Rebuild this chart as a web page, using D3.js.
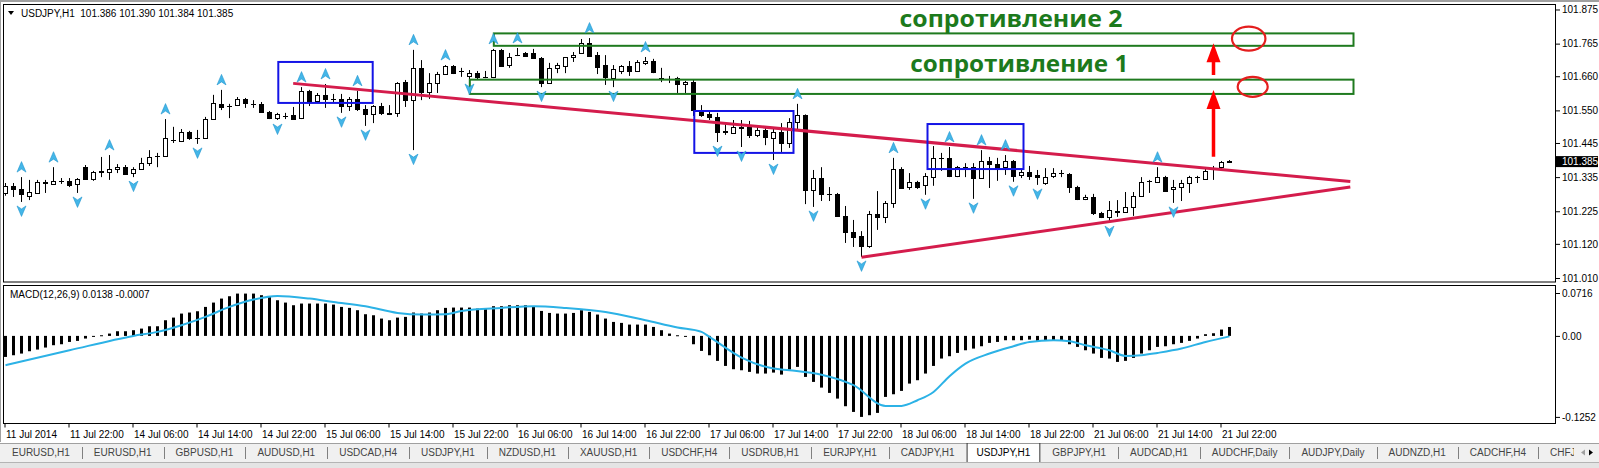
<!DOCTYPE html>
<html>
<head>
<meta charset="utf-8">
<script src="https://cdn.jsdelivr.net/npm/d3@7"></script>
<style>
  body { margin: 0; background: #fff; }
  svg { display: block; font-family: "Liberation Sans", Arial, sans-serif; }
</style>
</head>
<body>
<svg id="chart" width="1599" height="468"></svg>
<script>
// USDJPY H1 candles, [open, high, low, close], one per hour from 11 Jul 14:00
var candles = [
  [101.284,101.316,101.275,101.307],[101.307,101.316,101.271,101.297],[101.297,101.335,101.255,101.281],
  [101.275,101.326,101.261,101.288],[101.284,101.326,101.281,101.320],[101.318,101.326,101.284,101.316],
  [101.313,101.367,101.310,101.323],[101.322,101.332,101.313,101.323],[101.323,101.332,101.303,101.310],
  [101.313,101.332,101.284,101.329],[101.367,101.374,101.326,101.329],[101.329,101.355,101.323,101.352],
  [101.355,101.400,101.335,101.352],[101.352,101.406,101.326,101.361],[101.361,101.377,101.348,101.367],
  [101.367,101.374,101.342,101.345],[101.348,101.367,101.335,101.361],[101.361,101.397,101.358,101.380],
  [101.380,101.422,101.371,101.400],[101.402,101.413,101.367,101.403],[101.403,101.522,101.400,101.461],
  [101.456,101.497,101.445,101.455],[101.451,101.490,101.448,101.481],[101.481,101.484,101.455,101.461],
  [101.462,101.487,101.442,101.461],[101.461,101.529,101.458,101.522],[101.522,101.600,101.519,101.574],
  [101.571,101.616,101.551,101.561],[101.564,101.571,101.525,101.565],[101.567,101.593,101.564,101.587],
  [101.587,101.590,101.558,101.574],[101.572,101.583,101.558,101.571],[101.571,101.577,101.542,101.545],
  [101.545,101.548,101.522,101.525],[101.525,101.542,101.519,101.538],[101.533,101.542,101.522,101.532],
  [101.535,101.561,101.520,101.522],[101.525,101.625,101.522,101.613],[101.613,101.616,101.564,101.577],
  [101.580,101.606,101.577,101.600],[101.600,101.635,101.558,101.587],[101.588,101.603,101.577,101.587],
  [101.587,101.603,101.542,101.564],[101.564,101.593,101.548,101.587],[101.587,101.613,101.548,101.554],
  [101.554,101.567,101.500,101.538],[101.538,101.567,101.509,101.564],[101.564,101.574,101.535,101.542],
  [101.540,101.567,101.535,101.538],[101.542,101.641,101.529,101.638],[101.641,101.648,101.561,101.583],
  [101.583,101.745,101.422,101.687],[101.687,101.712,101.583,101.609],[101.609,101.670,101.587,101.638],
  [101.638,101.674,101.606,101.667],[101.667,101.696,101.664,101.693],[101.693,101.696,101.667,101.670],
  [101.678,101.687,101.658,101.677],[101.661,101.680,101.648,101.670],[101.670,101.677,101.648,101.658],
  [101.659,101.677,101.654,101.658],[101.658,101.748,101.654,101.745],[101.745,101.748,101.690,101.693],
  [101.696,101.735,101.687,101.722],[101.727,101.751,101.725,101.728],[101.735,101.738,101.722,101.725],
  [101.735,101.748,101.716,101.719],[101.719,101.722,101.625,101.638],[101.638,101.703,101.635,101.687],
  [101.687,101.703,101.670,101.696],[101.693,101.722,101.670,101.722],[101.722,101.738,101.706,101.728],
  [101.735,101.780,101.732,101.767],[101.767,101.783,101.722,101.725],[101.728,101.738,101.667,101.690],
  [101.696,101.728,101.632,101.658],[101.654,101.696,101.625,101.683],[101.677,101.696,101.667,101.693],
  [101.693,101.709,101.661,101.677],[101.677,101.712,101.674,101.706],[101.703,101.722,101.696,101.709],
  [101.709,101.716,101.670,101.674],[101.655,101.687,101.641,101.654],[101.652,101.661,101.638,101.651],
  [101.654,101.658,101.606,101.635],[101.635,101.645,101.606,101.641],[101.641,101.648,101.532,101.551],
  [101.545,101.567,101.529,101.535],[101.538,101.545,101.519,101.529],[101.529,101.542,101.448,101.481],
  [101.482,101.509,101.471,101.481],[101.477,101.519,101.474,101.497],[101.497,101.519,101.432,101.493],
  [101.497,101.516,101.461,101.471],[101.471,101.497,101.464,101.487],[101.487,101.497,101.438,101.464],
  [101.461,101.493,101.390,101.481],[101.481,101.509,101.416,101.445],[101.445,101.525,101.429,101.513],
  [101.513,101.571,101.487,101.535],[101.535,101.537,101.248,101.294],[101.294,101.358,101.239,101.332],
  [101.332,101.367,101.258,101.281],[101.282,101.303,101.258,101.281],[101.281,101.284,101.207,101.210],
  [101.210,101.242,101.123,101.158],[101.158,101.197,101.110,101.142],[101.145,101.161,101.078,101.113],
  [101.113,101.226,101.107,101.216],[101.216,101.290,101.165,101.207],[101.207,101.258,101.187,101.252],
  [101.252,101.397,101.236,101.361],[101.361,101.367,101.297,101.300],[101.303,101.348,101.294,101.320],
  [101.320,101.323,101.297,101.303],[101.310,101.348,101.278,101.339],[101.335,101.435,101.307,101.397],
  [101.396,101.413,101.355,101.397],[101.397,101.432,101.335,101.339],[101.339,101.371,101.335,101.367],
  [101.368,101.380,101.335,101.367],[101.367,101.380,101.265,101.332],[101.332,101.422,101.329,101.387],
  [101.387,101.400,101.300,101.377],[101.377,101.397,101.323,101.364],[101.367,101.406,101.342,101.387],
  [101.387,101.390,101.320,101.339],[101.342,101.361,101.332,101.352],[101.352,101.371,101.326,101.339],
  [101.342,101.358,101.310,101.335],[101.316,101.364,101.310,101.335],[101.339,101.364,101.332,101.348],
  [101.349,101.358,101.335,101.348],[101.345,101.348,101.284,101.303],[101.303,101.307,101.261,101.265],
  [101.265,101.278,101.261,101.271],[101.271,101.281,101.213,101.220],[101.220,101.223,101.203,101.207],
  [101.207,101.258,101.190,101.229],[101.226,101.261,101.207,101.223],[101.223,101.287,101.220,101.239],
  [101.239,101.287,101.210,101.274],[101.274,101.335,101.271,101.320],[101.323,101.326,101.284,101.322],
  [101.320,101.367,101.318,101.335],[101.335,101.339,101.287,101.290],[101.297,101.326,101.252,101.303],
  [101.303,101.326,101.258,101.316],[101.316,101.339,101.284,101.335],[101.336,101.339,101.316,101.335],
  [101.329,101.367,101.326,101.355],[101.364,101.371,101.326,101.365],[101.367,101.387,101.361,101.384],
  [101.386,101.390,101.384,101.385]
];

// MACD(12,26,9) main values, one per candle
var macdMain = [
  -0.0325,-0.0299,-0.0273,-0.0237,-0.0211,-0.0180,-0.0144,-0.0129,-0.0093,-0.0077,
  -0.0041,-0.0015,0.0010,0.0036,0.0072,0.0072,0.0088,0.0113,0.0149,0.0149,
  0.0242,0.0283,0.0345,0.0361,0.0381,0.0448,0.0515,0.0577,0.0613,0.0654,
  0.0654,0.0654,0.0629,0.0603,0.0551,0.0515,0.0474,0.0500,0.0500,0.0500,
  0.0500,0.0484,0.0448,0.0433,0.0397,0.0335,0.0319,0.0268,0.0242,0.0283,
  0.0294,0.0361,0.0345,0.0361,0.0397,0.0433,0.0438,0.0438,0.0438,0.0422,
  0.0422,0.0459,0.0459,0.0474,0.0474,0.0474,0.0448,0.0386,0.0355,0.0345,
  0.0345,0.0355,0.0397,0.0371,0.0330,0.0268,0.0216,0.0201,0.0175,0.0175,
  0.0175,0.0139,0.0088,0.0036,0.0010,-0.0015,-0.0129,-0.0232,-0.0299,-0.0386,
  -0.0464,-0.0515,-0.0531,-0.0556,-0.0582,-0.0582,-0.0567,-0.0598,-0.0520,-0.0479,
  -0.0634,-0.0711,-0.0799,-0.0881,-0.0969,-0.1087,-0.1175,-0.1252,-0.1226,-0.1190,
  -0.0943,-0.0902,-0.0850,-0.0737,-0.0685,-0.0582,-0.0464,-0.0350,-0.0314,-0.0263,
  -0.0222,-0.0196,-0.0160,-0.0108,-0.0093,-0.0067,-0.0067,-0.0067,-0.0057,-0.0077,
  -0.0077,-0.0067,-0.0077,-0.0129,-0.0170,-0.0222,-0.0273,-0.0340,-0.0350,-0.0402,
  -0.0386,-0.0340,-0.0273,-0.0222,-0.0170,-0.0160,-0.0129,-0.0108,-0.0077,-0.0041,
  0.0026,0.0041,0.0098,0.0138
];

// signal line, read at [bar index, value]
var macdSignal = [
  [0,-0.0453],[8,-0.0222],[16,0.0000],[19,0.0062],[22,0.0165],[25,0.0294],[28,0.0448],
  [31,0.0562],[34,0.0618],[38,0.0577],[41,0.0525],[45,0.0459],[49,0.0355],[52,0.0330],
  [55,0.0335],[57,0.0386],[62,0.0433],[66,0.0459],[70,0.0433],[75,0.0371],[80,0.0242],
  [84,0.0129],[87,0.0062],[88,-0.0015],[92,-0.0335],[96,-0.0505],[98,-0.0531],[102,-0.0600],
  [106,-0.0762],[110,-0.1082],[112,-0.1082],[114,-0.0994],[116,-0.0866],[118,-0.0623],
  [120,-0.0428],[123,-0.0273],[126,-0.0160],[128,-0.0093],[131,-0.0067],[133,-0.0082],
  [135,-0.0144],[138,-0.0222],[140,-0.0309],[142,-0.0299],[144,-0.0263],[147,-0.0196],
  [150,-0.0093],[153,-0.0007]
];

var fractalUp = [2,6,13,20,27,37,40,44,51,55,61,64,73,80,99,111,118,122,125,144];
var fractalDown = [2,9,16,24,34,42,45,51,58,67,76,89,92,96,101,107,115,121,126,129,138,146];

var priceTicks = [101.875,101.765,101.660,101.550,101.445,101.335,101.225,101.120,101.010];
var macdTicks = [0.0716, 0, -0.1252];
var macdTickLabels = ['0.0716', '0.00', '-0.1252'];
var timeLabels = ['11 Jul 2014','11 Jul 22:00','14 Jul 06:00','14 Jul 14:00','14 Jul 22:00',
  '15 Jul 06:00','15 Jul 14:00','15 Jul 22:00','16 Jul 06:00','16 Jul 14:00','16 Jul 22:00',
  '17 Jul 06:00','17 Jul 14:00','17 Jul 22:00','18 Jul 06:00','18 Jul 14:00','18 Jul 22:00',
  '21 Jul 06:00','21 Jul 14:00','21 Jul 22:00'];
var tabNames = ['EURUSD,H1','EURUSD,H1','GBPUSD,H1','AUDUSD,H1','USDCAD,H4','USDJPY,H1',
  'NZDUSD,H1','XAUUSD,H1','USDCHF,H4','USDRUB,H1','EURJPY,H1','CADJPY,H1','USDJPY,H1',
  'GBPJPY,H1','AUDCAD,H1','AUDCHF,Daily','AUDJPY,Daily','AUDNZD,H1','CADCHF,H4','CHFJPY,H1'];
var activeTab = 12;

// drawn objects: [fromBar, toBar, lowPrice, highPrice] etc.
var zones = [[58.04,168.5,101.603,101.649],[61.04,168.5,101.758,101.798]];
var boxes = [[34.1,45.9,101.574,101.706],[86.1,98.5,101.413,101.548],[115.25,127.25,101.361,101.506]];
var trendLines = [[[35.96,101.637],[168.1,101.321]],[[107,101.077],[168.1,101.303]]];
var upArrows = [[151,101.401,101.616],[151,101.664,101.766]];
var rings = [[155.4,101.781,2.09,0.0387],[155.9,101.626,1.875,0.0322]];
var notes = [['сопротивление 2',111.75,101.820],['сопротивление 1',113.1,101.675]];

var header = 'USDJPY,H1  101.386 101.390 101.384 101.385';
var macdHeader = 'MACD(12,26,9) 0.0138 -0.0007';
var lastPrice = 101.385;

var svg = d3.select('#chart');
var left = 3, right = 1556, mainTop = 4, mainBot = 282.5, subTop = 285.5, subBot = 423.5;

var x = d3.scaleLinear().domain([0, 1]).range([5.5, 13.5]);
var y = d3.scaleLinear().domain([100.9955, 101.8927]).range([mainBot, mainTop]);
var ym = d3.scaleLinear().domain([-0.1354, 0.0779]).range([subBot, subTop]);

// window frame
svg.append('rect').attr('width', 1599).attr('height', 468).attr('fill', '#fff');
svg.append('rect').attr('x', 0).attr('y', 0).attr('width', 1599).attr('height', 2).attr('fill', '#a0a0a0');
svg.append('line').attr('x1', 0.5).attr('x2', 0.5).attr('y1', 0).attr('y2', 442).attr('stroke', '#a0a0a0');

var defs = svg.append('defs');
defs.append('clipPath').attr('id', 'clipMain').append('rect')
  .attr('x', left).attr('y', mainTop).attr('width', right - left).attr('height', mainBot - mainTop);
defs.append('clipPath').attr('id', 'clipSub').append('rect')
  .attr('x', left).attr('y', subTop).attr('width', right - left).attr('height', subBot - subTop);

var main = svg.append('g').attr('clip-path', 'url(#clipMain)');
var sub = svg.append('g').attr('clip-path', 'url(#clipSub)');

// candles
var cg = main.append('g');
candles.forEach(function(d, i) {
  var cx = x(i), o = d[0], h = d[1], l = d[2], c = d[3];
  cg.append('line').attr('x1', cx).attr('x2', cx).attr('y1', y(h)).attr('y2', y(l))
    .attr('stroke', '#000').attr('stroke-width', 1);
  var top = Math.round(y(Math.max(o, c))) + 0.5, bot = Math.round(y(Math.min(o, c))) + 0.5;
  if (bot - top < 1) {
    cg.append('line').attr('x1', cx - 2.5).attr('x2', cx + 2.5).attr('y1', top).attr('y2', top)
      .attr('stroke', '#000');
  } else {
    cg.append('rect').attr('x', cx - 2).attr('y', top).attr('width', 4).attr('height', bot - top)
      .attr('fill', c >= o ? '#fff' : '#000').attr('stroke', '#000').attr('stroke-width', 1);
  }
});

// resistance zones
main.selectAll('rect.zone').data(zones).enter().append('rect').attr('class', 'zone')
  .attr('x', function(d) { return x(d[0]); })
  .attr('y', function(d) { return y(d[3]); })
  .attr('width', function(d) { return x(d[1]) - x(d[0]); })
  .attr('height', function(d) { return y(d[2]) - y(d[3]); })
  .attr('fill', 'none').attr('stroke', '#1f7a1f').attr('stroke-width', 2);

// triangle
main.selectAll('line.trend').data(trendLines).enter().append('line').attr('class', 'trend')
  .attr('x1', function(d) { return x(d[0][0]); }).attr('y1', function(d) { return y(d[0][1]); })
  .attr('x2', function(d) { return x(d[1][0]); }).attr('y2', function(d) { return y(d[1][1]); })
  .attr('stroke', '#d41c4c').attr('stroke-width', 3);

// blue boxes
main.selectAll('rect.box').data(boxes).enter().append('rect').attr('class', 'box')
  .attr('x', function(d) { return x(d[0]); })
  .attr('y', function(d) { return y(d[3]); })
  .attr('width', function(d) { return x(d[1]) - x(d[0]); })
  .attr('height', function(d) { return y(d[2]) - y(d[3]); })
  .attr('fill', 'none').attr('stroke', '#1414e6').attr('stroke-width', 2);

// fractals
var upShape = 'M0,-5.5L4.5,5L0,2L-4.5,5Z', downShape = 'M0,5.5L4.5,-5L0,-2L-4.5,-5Z';
main.selectAll('path.fup').data(fractalUp).enter().append('path').attr('class', 'fup')
  .attr('d', upShape)
  .attr('transform', function(i) { return 'translate(' + x(i) + ',' + (y(candles[i][1]) - 10) + ')'; })
  .attr('fill', '#44b6e8').attr('stroke', '#2196cf').attr('stroke-width', 0.6);
main.selectAll('path.fdn').data(fractalDown).enter().append('path').attr('class', 'fdn')
  .attr('d', downShape)
  .attr('transform', function(i) { return 'translate(' + x(i) + ',' + (y(candles[i][2]) + 9) + ')'; })
  .attr('fill', '#44b6e8').attr('stroke', '#2196cf').attr('stroke-width', 0.6);

// red arrows
upArrows.forEach(function(a) {
  var ax = x(a[0]), y0 = y(a[1]), tip = y(a[2]);
  main.append('line').attr('x1', ax).attr('x2', ax).attr('y1', y0).attr('y2', tip + 14)
    .attr('stroke', '#f00').attr('stroke-width', 3.5);
  main.append('path').attr('d', 'M' + ax + ',' + tip + 'L' + (ax + 7) + ',' + (tip + 19) +
      'L' + (ax - 7) + ',' + (tip + 19) + 'Z').attr('fill', '#f00');
});

// red rings
main.selectAll('ellipse').data(rings).enter().append('ellipse')
  .attr('cx', function(d) { return x(d[0]); }).attr('cy', function(d) { return y(d[1]); })
  .attr('rx', function(d) { return x(d[0] + d[2]) - x(d[0]); })
  .attr('ry', function(d) { return y(d[1] - d[3]) - y(d[1]); })
  .attr('fill', 'none').attr('stroke', '#e41e1e').attr('stroke-width', 2.2);

// notes
var noteWidths = [223, 218];
main.selectAll('text.note').data(notes).enter().append('text').attr('class', 'note')
  .attr('x', function(d) { return x(d[1]); }).attr('y', function(d) { return y(d[2]); })
  .attr('textLength', function(d, i) { return noteWidths[i]; })
  .attr('lengthAdjust', 'spacingAndGlyphs')
  .style('font-family', '"Open Sans", "Noto Sans", sans-serif')
  .style('font-weight', 700).style('font-size', '24px').attr('fill', '#1c7a1c')
  .text(function(d) { return d[0]; });

// MACD histogram
sub.selectAll('rect.hist').data(macdMain).enter().append('rect').attr('class', 'hist')
  .attr('x', function(d, i) { return x(i) - 1.5; })
  .attr('y', function(d) { return Math.min(ym(d), ym(0)); })
  .attr('width', 3)
  .attr('height', function(d) { return Math.max(1, Math.abs(ym(d) - ym(0))); })
  .attr('fill', '#000');

sub.append('path').datum(macdSignal)
  .attr('d', d3.line().x(function(d) { return x(d[0]); }).y(function(d) { return ym(d[1]); })
    .curve(d3.curveMonotoneX))
  .attr('fill', 'none').attr('stroke', '#2cb2e6').attr('stroke-width', 2);

// panel borders
svg.append('rect').attr('x', left + 0.5).attr('y', mainTop + 0.5)
  .attr('width', right - left - 1).attr('height', mainBot - mainTop - 1)
  .attr('fill', 'none').attr('stroke', '#000');
svg.append('rect').attr('x', left + 0.5).attr('y', subTop)
  .attr('width', right - left - 1).attr('height', subBot - subTop)
  .attr('fill', 'none').attr('stroke', '#000');

// headers
svg.append('path').attr('d', 'M8,11L14,11L11,15Z').attr('fill', '#000');
svg.append('text').attr('x', 21).attr('y', 17).style('font-size', '10px').attr('fill', '#000')
  .attr('xml:space', 'preserve').text(header);
svg.append('text').attr('x', 10).attr('y', 298).style('font-size', '10px').attr('fill', '#000')
  .text(macdHeader);

// price axis
var pa = svg.append('g').attr('transform', 'translate(' + right + ',0)')
  .call(d3.axisRight(y).tickValues(priceTicks).tickFormat(d3.format('.3f')).tickSize(4).tickPadding(2));
pa.select('.domain').remove();
pa.selectAll('text').style('font-size', '10px').style('font-family', '"Liberation Sans", Arial, sans-serif');

// last price tag
svg.append('rect').attr('x', right).attr('y', y(lastPrice) - 5.5).attr('width', 42).attr('height', 11).attr('fill', '#000');
svg.append('text').attr('x', right + 6).attr('y', y(lastPrice) + 3.5).style('font-size', '10px')
  .attr('fill', '#fff').text(d3.format('.3f')(lastPrice));

// MACD axis
var ma = svg.append('g').attr('transform', 'translate(' + right + ',0)')
  .call(d3.axisRight(ym).tickValues(macdTicks).tickFormat(function(d, i) { return macdTickLabels[i]; })
    .tickSize(4).tickPadding(2));
ma.select('.domain').remove();
ma.selectAll('text').style('font-size', '10px').style('font-family', '"Liberation Sans", Arial, sans-serif');
ma.selectAll('.tick').filter(function(d) { return ym(d) < subTop + 8; })
  .attr('transform', 'translate(0,' + (subTop + 8) + ')');

// time axis
var ta = svg.append('g').attr('transform', 'translate(-1,' + subBot + ')')
  .call(d3.axisBottom(x).tickValues(timeLabels.map(function(t, k) { return k * 8; }))
    .tickFormat(function(d, k) { return timeLabels[k]; }).tickSize(4).tickPadding(3));
ta.select('.domain').remove();
ta.selectAll('text').attr('text-anchor', 'start').attr('x', 1)
  .style('font-size', '10px').style('font-family', '"Liberation Sans", Arial, sans-serif');

// tab bar
var tabTop = 443, tabBot = 462;
svg.append('rect').attr('x', 0).attr('y', tabTop).attr('width', 1599).attr('height', tabBot - tabTop).attr('fill', '#f0f0f0');
svg.append('line').attr('x1', 0).attr('x2', 1599).attr('y1', tabTop + 0.5).attr('y2', tabTop + 0.5).attr('stroke', '#a0a0a0');
svg.append('rect').attr('x', 0).attr('y', tabBot).attr('width', 1599).attr('height', 468 - tabBot).attr('fill', '#e4e4e4');
svg.append('line').attr('x1', 0).attr('x2', 1599).attr('y1', tabBot + 0.5).attr('y2', tabBot + 0.5).attr('stroke', '#b4b4b4');

defs.append('clipPath').attr('id', 'clipTabs').append('rect')
  .attr('x', 0).attr('y', tabTop).attr('width', 1574).attr('height', tabBot - tabTop);
var tg = svg.append('g').attr('clip-path', 'url(#clipTabs)');
var cursor = 0;
tabNames.forEach(function(name, i) {
  var t = tg.append('text').attr('y', 456).style('font-size', '10px').attr('fill', '#444').text(name);
  var w = t.node().getComputedTextLength();
  var cell = w + (i === activeTab ? 20 : 24);
  if (i === activeTab) {
    tg.insert('rect', 'text').attr('x', cursor + 0.5).attr('y', tabTop).attr('width', cell - 1)
      .attr('height', tabBot - tabTop + 0.5).attr('fill', '#fff').attr('stroke', '#333');
    t.attr('fill', '#000');
  }
  t.attr('x', cursor + (cell - w) / 2);
  var next = i + 1;
  if (i !== activeTab && next !== activeTab && next < tabNames.length) {
    tg.append('line').attr('x1', Math.round(cursor + cell) + 0.5).attr('x2', Math.round(cursor + cell) + 0.5)
      .attr('y1', 447).attr('y2', 459).attr('stroke', '#808080');
  }
  cursor += cell;
});
// scroll buttons of the tab strip
svg.append('path').attr('d', 'M1581,452.5L1585,449.5L1585,455.5Z').attr('fill', '#a0a0a0');
svg.append('path').attr('d', 'M1589,449.5L1593,452.5L1589,455.5Z').attr('fill', '#000');
</script>
</body>
</html>
